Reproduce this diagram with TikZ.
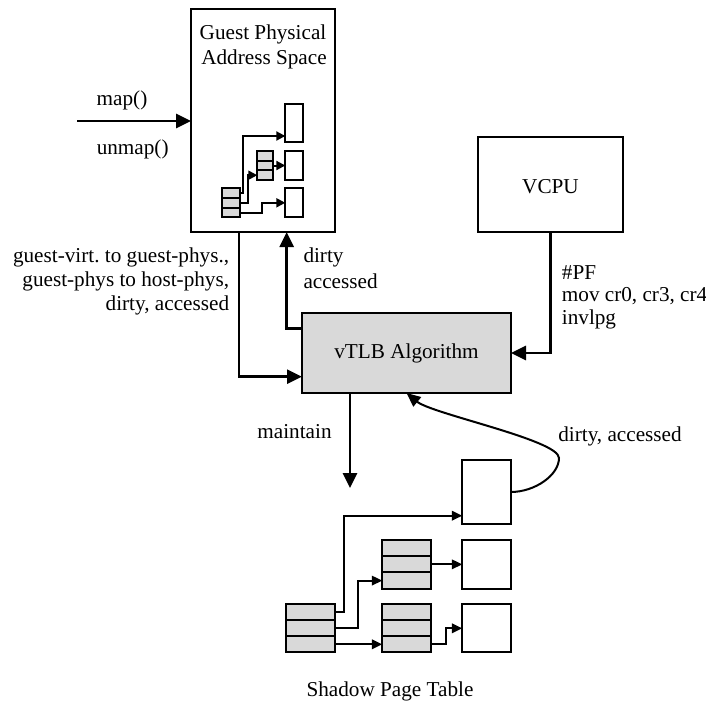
\documentclass[tikz,border=0pt]{standalone}
\usepackage{fontspec}
\setmainfont{Liberation Serif}
\usetikzlibrary{arrows.meta}
\definecolor{cellgray}{HTML}{D9D9D9}
\tikzset{
  lbl/.style={font=\fontsize{21.2}{25}\selectfont, inner sep=0pt},
  frame/.style={draw, line width=2.6pt, inner sep=0pt, outer sep=0pt, font=\fontsize{21.2}{25}\selectfont},
  cell/.style={draw, fill=cellgray, line width=2pt, inner sep=0pt, outer sep=0pt},
  page/.style={draw, fill=white, line width=2pt, inner sep=0pt, outer sep=0pt},
  bigarrow/.style={line width=2.7pt, -{Triangle[length=15pt,width=14pt]}},
  smallarrow/.style={line width=2pt, -{Triangle[length=10.5pt,width=9.5pt]}},
  tinyarrow/.style={line width=2pt, -{Triangle[length=9pt,width=9pt]}},
}
\begin{document}
\begin{tikzpicture}[x=1pt,y=-1pt]
\useasboundingbox (0,0) rectangle (706,704);

% ---- guest physical address space ----
\node[frame, minimum width=144pt, minimum height=223pt] (gpas) at (263,120.5) {};
\node[lbl, anchor=base] (gpasA) at (263,39) {Guest Physical};
\node[lbl, anchor=base] (gpasB) at (264,64) {Address Space};

% guest page frames
\node[page, minimum width=17.4pt, minimum height=37.4pt] (g1) at (294,123) {};
\node[page, minimum width=17.4pt, minimum height=29pt] (g2) at (294,165.5) {};
\node[page, minimum width=17.4pt, minimum height=29pt] (g3) at (294,202.8) {};

% guest page tables
\foreach \i/\y in {1/155.8,2/165.5,3/175.2}
  \node[cell, minimum width=16pt, minimum height=9.67pt] (m\i) at (265.3,\y) {};
\foreach \i/\y in {1/193.1,2/202.8,3/212.5}
  \node[cell, minimum width=18.3pt, minimum height=9.67pt] (lt\i) at (230.85,\y) {};

\draw[tinyarrow] (lt1.east) -- ++(2.7,0) |- ([yshift=-13pt]g1.west);
\draw[tinyarrow] (lt2.east) -- ++(8.3,0) |- (m3.west);
\draw[tinyarrow] (lt3.east) -- ++(21.7,0) |- (g3.west);
\draw[tinyarrow] (m2.east) -- (g2.west);

% map / unmap
\coordinate (mapin) at (77.3,121);
\draw[bigarrow] (mapin) -- (mapin -| gpas.west);
\node[lbl, anchor=base] (maplbl) at (122,105) {map()};
\node[lbl, anchor=base] (unmaplbl) at (132.7,154.3) {unmap()};

% ---- VCPU ----
\node[frame, minimum width=145pt, minimum height=95pt, text height=17.6pt, text depth=0pt] (vcpu) at (550.5,184.5) {VCPU};

% ---- vTLB algorithm ----
\node[frame, fill=cellgray, minimum width=209pt, minimum height=80pt] (vtlb) at (406.5,353) {vTLB Algorithm};

\draw[bigarrow] ([xshift=-24pt]gpas.south) |- ([yshift=-23.7pt]vtlb.west);
\draw[bigarrow] ([yshift=24.7pt]vtlb.west) -| ([xshift=23.7pt]gpas.south);
\draw[bigarrow] (vcpu.south) |- (vtlb.east);
\coordinate (mtip) at (350,488);
\draw[bigarrow] (vtlb.south -| mtip) -- (mtip);

\node[lbl, anchor=base east] (gv1) at (229.3,262) {guest-virt.\ to guest-phys.,};
\node[lbl, anchor=base east] (gv2) at (229.3,286.5) {guest-phys to host-phys,};
\node[lbl, anchor=base east] (gv3) at (229.3,310.5) {dirty, accessed};

\node[lbl, anchor=base west] (da1) at (303.3,262.5) {dirty};
\node[lbl, anchor=base west] (da2) at (303.3,288) {accessed};

\node[lbl, anchor=base west] (pf1) at (561.7,279) {\#PF};
\node[lbl, anchor=base west] (pf2) at (561.7,301.5) {mov cr0, cr3, cr4};
\node[lbl, anchor=base west] (pf3) at (561.7,324) {invlpg};

\node[lbl, anchor=base] (maint) at (294.5,438.3) {maintain};

% ---- shadow page table ----
\node[page, minimum width=48.4pt, minimum height=64pt] (s1) at (486.5,492) {};
\node[page, minimum width=48.4pt, minimum height=48.7pt] (s2) at (486.5,564.35) {};
\node[page, minimum width=48.4pt, minimum height=48pt] (s3) at (486.5,628.3) {};

\foreach \i/\y in {1/548.1,2/564.35,3/580.6}
  \node[cell, minimum width=48.4pt, minimum height=16.23pt] (A\i) at (406.5,\y) {};
\foreach \i/\y in {1/612.3,2/628.3,3/644.3}
  \node[cell, minimum width=48.4pt, minimum height=16pt] (B\i) at (406.5,\y) {};
\foreach \i/\y in {1/612.3,2/628.3,3/644.3}
  \node[cell, minimum width=49pt, minimum height=16pt] (L\i) at (310.5,\y) {};

\draw[smallarrow] (L1.east) -- ++(9,0) |- ([yshift=-23.7pt]s1.west);
\draw[smallarrow] (L2.east) -- ++(23.3,0) |- (A3.west);
\draw[smallarrow] (L3.east) -- (B3.west);
\draw[smallarrow] (A2.east) -- (s2.west);
\draw[smallarrow] (B3.east) -- ++(15.3,0) |- (s3.west);

% dirty / accessed feedback
\draw[line width=2pt, -{Triangle[length=14pt,width=12pt]}]
  (s1.east) .. controls (535,492) and (559,475) .. (559,458)
  .. controls (559,440) and (432,414) .. (vtlb.south);
\node[lbl, anchor=base] (da3) at (620,441.7) {dirty, accessed};

\node[lbl, anchor=base] (spt) at (390,696.7) {Shadow Page Table};
\end{tikzpicture}
\end{document}
